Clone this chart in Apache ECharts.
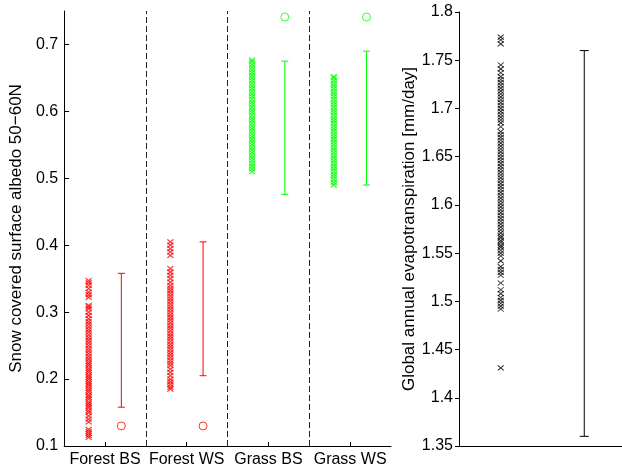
<!DOCTYPE html>
<html><head><meta charset="utf-8">
<script src="https://cdn.jsdelivr.net/npm/echarts@6/dist/echarts.min.js"></script>
<style>html,body{margin:0;padding:0;background:#fff}#c{width:622px;height:470px}</style>
</head><body><div id="c"></div>
<script>
// ---- data ----
const categories = ['Forest BS', 'Forest WS', 'Grass BS', 'Grass WS'];
const forestBS = [0.113,0.116,0.119,0.122,0.125,0.136,0.14,0.145,0.15,0.153,0.157,0.16,0.163,0.166,0.17,0.173,0.176,0.18,0.183,0.186,0.19,0.193,0.196,0.2,0.203,0.206,0.21,0.213,0.216,0.22,0.223,0.226,0.23,0.234,0.238,0.242,0.246,0.25,0.254,0.258,0.262,0.266,0.27,0.274,0.278,0.282,0.286,0.29,0.295,0.3,0.305,0.308,0.31,0.322,0.326,0.33,0.335,0.34,0.344,0.347];
const forestWS = [0.185,0.188,0.192,0.196,0.2,0.205,0.21,0.215,0.22,0.224,0.228,0.232,0.236,0.24,0.244,0.248,0.252,0.256,0.26,0.264,0.268,0.272,0.276,0.28,0.284,0.288,0.292,0.296,0.3,0.304,0.308,0.312,0.316,0.32,0.324,0.328,0.332,0.336,0.34,0.345,0.35,0.355,0.36,0.365,0.385,0.39,0.395,0.4,0.405];
const grassBS = [0.51,0.514,0.518,0.522,0.526,0.53,0.534,0.538,0.542,0.546,0.55,0.554,0.558,0.562,0.566,0.57,0.574,0.578,0.582,0.586,0.59,0.594,0.598,0.602,0.606,0.61,0.614,0.618,0.622,0.626,0.63,0.634,0.638,0.642,0.646,0.65,0.654,0.658,0.662,0.666,0.67,0.674,0.677];
const grassWS = [0.49,0.494,0.498,0.502,0.506,0.51,0.514,0.518,0.522,0.526,0.53,0.534,0.538,0.542,0.546,0.55,0.554,0.558,0.562,0.566,0.57,0.574,0.578,0.582,0.586,0.59,0.594,0.598,0.602,0.606,0.61,0.614,0.618,0.622,0.626,0.63,0.634,0.638,0.642,0.646,0.65,0.652];
const errLow  = [0.158, 0.205, 0.476, 0.49];
const errHigh = [0.358, 0.405, 0.675, 0.69];
const circleVals = [0.13, 0.13, 0.741, 0.741];
const albedoTicks = [0.1, 0.2, 0.3, 0.4, 0.5, 0.6, 0.7];

const evap = [1.431,1.492,1.495,1.498,1.501,1.504,1.508,1.512,1.519,1.527,1.53,1.533,1.536,1.542,1.547,1.55,1.553,1.556,1.558,1.561,1.563,1.566,1.568,1.571,1.574,1.577,1.58,1.583,1.586,1.589,1.592,1.595,1.598,1.601,1.604,1.607,1.61,1.613,1.616,1.619,1.622,1.625,1.628,1.631,1.634,1.637,1.64,1.643,1.646,1.649,1.652,1.655,1.658,1.661,1.664,1.667,1.67,1.673,1.676,1.681,1.685,1.688,1.691,1.694,1.697,1.7,1.703,1.706,1.709,1.712,1.715,1.718,1.721,1.724,1.727,1.73,1.733,1.737,1.741,1.745,1.767,1.771,1.774];
const evapErrLow = 1.36;
const evapErrHigh = 1.76;
const evapTicks = [1.35, 1.4, 1.45, 1.5, 1.55, 1.6, 1.65, 1.7, 1.75, 1.8];

// ---- chart ----
const groups = [forestBS, forestWS, grassBS, grassWS];
const colors = ['#ff0000', '#ff0000', '#00ff00', '#00ff00'];
const crossPath = 'path://M0,0L10,10M10,0L0,10';
const font = 'Liberation Sans, Arial, Helvetica, sans-serif';

function errRender(capHalf) {
  return function (params, api) {
    const lo = api.coord([api.value(0), api.value(1)]);
    const hi = api.coord([api.value(0), api.value(2)]);
    const st = { stroke: api.visual('color'), lineWidth: 1 };
    return { type: 'group', children: [
      { type: 'line', shape: { x1: lo[0], y1: lo[1], x2: hi[0], y2: hi[1] }, style: st },
      { type: 'line', shape: { x1: lo[0] - capHalf, y1: lo[1], x2: lo[0] + capHalf, y2: lo[1] }, style: st },
      { type: 'line', shape: { x1: hi[0] - capHalf, y1: hi[1], x2: hi[0] + capHalf, y2: hi[1] }, style: st }
    ]};
  };
}

const series = [];
groups.forEach((vals, i) => {
  series.push({
    type: 'scatter', xAxisIndex: 0, yAxisIndex: 0,
    data: vals.map(v => [i + 1 - 0.2, v]),
    symbol: crossPath, symbolSize: [6, 5],
    itemStyle: { color: 'none', borderColor: colors[i], borderWidth: 1.2 },
    silent: true, animation: false, z: 3
  });
  series.push({
    type: 'custom', xAxisIndex: 0, yAxisIndex: 0,
    data: [[i + 1 + 0.2, errLow[i], errHigh[i]]],
    renderItem: errRender(3.5),
    itemStyle: { color: colors[i] },
    silent: true, animation: false, z: 3
  });
  series.push({
    type: 'scatter', xAxisIndex: 0, yAxisIndex: 0,
    data: [[i + 1 + 0.2, circleVals[i]]],
    symbol: 'circle', symbolSize: 8,
    itemStyle: { color: 'none', borderColor: colors[i], borderWidth: 1 },
    silent: true, animation: false, z: 3
  });
});
// dashed separators
series.push({
  type: 'scatter', xAxisIndex: 0, yAxisIndex: 0, data: [],
  markLine: {
    silent: true, symbol: 'none', animation: false,
    label: { show: false },
    lineStyle: { color: '#222', width: 1, type: [6, 3] },
    data: [{ xAxis: 1.5 }, { xAxis: 2.5 }, { xAxis: 3.5 }]
  }
});
// right panel
series.push({
  type: 'scatter', xAxisIndex: 1, yAxisIndex: 1,
  data: evap.map(v => [0.25, v]),
  symbol: crossPath, symbolSize: [6, 5],
  itemStyle: { color: 'none', borderColor: '#000', borderWidth: 1 },
  silent: true, animation: false
});
series.push({
  type: 'custom', xAxisIndex: 1, yAxisIndex: 1,
  data: [[0.75, evapErrLow, evapErrHigh]],
  renderItem: errRender(4.5),
  itemStyle: { color: '#000' },
  silent: true, animation: false
});

const axisLine = { show: true, onZero: false, lineStyle: { color: '#000', width: 1 } };
const labelStyle = { color: '#000', fontSize: 16, fontFamily: font };

const option = {
  animation: false,
  backgroundColor: '#fff',
  grid: [
    { left: 58, top: 11, width: 333, height: 435 },
    { left: 459, top: 12, width: 163, height: 434 }
  ],
  xAxis: [
    {
      gridIndex: 0, type: 'value', min: 0.5, max: 4.5,
      axisLine: axisLine, splitLine: { show: false },
      axisTick: { show: true, inside: true, length: 4, customValues: [1, 2, 3, 4], lineStyle: { color: '#000' } },
      axisLabel: Object.assign({ margin: 6, customValues: [1, 2, 3, 4], formatter: v => categories[Math.round(v) - 1] || '' }, labelStyle)
    },
    {
      gridIndex: 1, type: 'value', min: 0, max: 0.976,
      axisLine: axisLine, splitLine: { show: false },
      axisTick: { show: false }, axisLabel: { show: false }
    }
  ],
  yAxis: [
    {
      gridIndex: 0, type: 'value', min: 0.1, max: 0.75,
      axisLine: axisLine, splitLine: { show: false },
      axisTick: { show: true, inside: true, length: 5, customValues: albedoTicks, lineStyle: { color: '#000' } },
      axisLabel: Object.assign({ margin: 6, customValues: albedoTicks, formatter: v => v.toFixed(1) }, labelStyle),
      name: 'Snow covered surface albedo 50\u221260N', nameLocation: 'middle', nameGap: 31,
      nameTextStyle: { color: '#000', fontSize: 17, fontFamily: font }
    },
    {
      gridIndex: 1, type: 'value', min: 1.35, max: 1.8,
      axisLine: axisLine, splitLine: { show: false },
      axisTick: { show: true, inside: false, length: 4, customValues: evapTicks, lineStyle: { color: '#000' } },
      axisLabel: Object.assign({ margin: 6, customValues: evapTicks, formatter: v => String(+v.toFixed(2)) }, labelStyle),
      name: 'Global annual evapotranspiration [mm/day]', nameLocation: 'middle', nameGap: 40,
      nameTextStyle: { color: '#000', fontSize: 17, fontFamily: font }
    }
  ],
  series: series
};
const chart = echarts.init(document.getElementById('c'), null, { renderer: 'canvas' });
chart.setOption(option);
</script>
</body></html>
